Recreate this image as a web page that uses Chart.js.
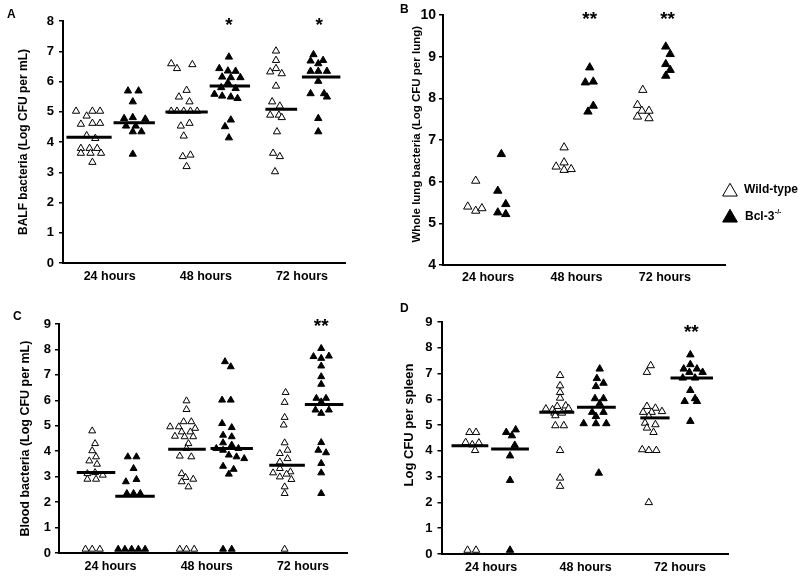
<!DOCTYPE html>
<html>
<head>
<meta charset="utf-8">
<script src="https://cdn.jsdelivr.net/npm/chart.js@4.4.1/dist/chart.umd.min.js"></script>
<style>
  html, body { margin: 0; padding: 0; background: #fff; }
  #fig { position: relative; width: 800px; height: 577px; overflow: hidden; font-family: 'Liberation Sans', Arial, sans-serif; }
  #fig canvas { position: absolute; }
  .tag { position: absolute; font-weight: bold; font-size: 12px; line-height: 12px; color: #000; }
</style>
</head>
<body>
<div id="fig">
  <canvas id="balf" width="400" height="290" style="left:0;top:0"></canvas>
  <canvas id="lung" width="400" height="290" style="left:400px;top:0"></canvas>
  <canvas id="blood" width="400" height="287" style="left:0;top:290px"></canvas>
  <canvas id="spleen" width="400" height="287" style="left:400px;top:290px"></canvas>
  <div class="tag" style="left:7px;top:8px">A</div>
  <div class="tag" style="left:400px;top:3px">B</div>
  <div class="tag" style="left:13px;top:310px">C</div>
  <div class="tag" style="left:400px;top:302px">D</div>
</div>
<script>
const hours = ["24 hours", "48 hours", "72 hours"];

// A: BALF bacteria - x = jittered position around each time point
const balfWtX = [
  [0.65, 0.82, 0.9, 0.76, 0.7, 0.82, 0.9, 0.76, 0.85, 0.7, 0.79, 0.87, 0.7, 0.8, 0.91, 0.82],
  [1.64, 1.7, 1.86, 1.8, 1.72, 1.83, 1.64, 1.7, 1.77, 1.84, 1.91, 1.74, 1.83, 1.77, 1.76, 1.84, 1.8],
  [2.73, 2.73, 2.67, 2.73, 2.79, 2.73, 2.69, 2.77, 2.67, 2.76, 2.79, 2.74, 2.7, 2.77, 2.72]
];
const balfWtY = [
  [5.02, 5.02, 5.02, 4.86, 4.59, 4.62, 4.62, 4.21, 4.12, 3.79, 3.79, 3.79, 3.63, 3.63, 3.63, 3.33],
  [6.59, 6.43, 6.56, 5.71, 5.49, 5.33, 5.02, 5.02, 5.02, 5.02, 5.02, 4.53, 4.62, 4.2, 3.52, 3.57, 3.19],
  [7.01, 6.7, 6.32, 6.43, 6.26, 5.85, 5.33, 5.19, 4.89, 4.89, 4.81, 4.34, 3.63, 3.52, 3.02]
];
const balfKoX = [
  [1.19, 1.3, 1.24, 1.15, 1.24, 1.37, 1.17, 1.27, 1.24, 1.33, 1.24],
  [2.24, 2.14, 2.23, 2.31, 2.17, 2.26, 2.36, 2.23, 2.16, 2.31, 2.09, 2.17, 2.26, 2.33, 2.26, 2.2, 2.24],
  [3.12, 3.09, 3.22, 3.17, 3.09, 3.17, 3.26, 3.17, 3.09, 3.23, 3.26, 3.17, 3.17]
];
const balfKoY = [
  [5.69, 5.69, 5.33, 4.78, 4.81, 4.76, 4.53, 4.53, 4.34, 4.34, 3.6],
  [6.81, 6.43, 6.35, 6.34, 6.15, 6.13, 6.13, 5.96, 5.8, 5.77, 5.58, 5.52, 5.49, 5.44, 4.73, 4.51, 4.14],
  [6.89, 6.68, 6.7, 6.59, 6.34, 6.34, 6.34, 6.01, 5.6, 5.6, 5.49, 4.78, 4.34]
];
const balfWtMean = [4.16, 4.99, 5.08];
const balfKoMean = [4.64, 5.85, 6.15];
const balfStarX = [2.24, 3.18];
const balfStarY = [7.93, 7.93];
const balfStars = ["*", "*"];

// B: whole lung bacteria
const lungWtX = [[0.86, 0.77, 0.86, 0.93], [1.86, 1.86, 1.77, 1.86, 1.94], [2.75, 2.69, 2.74, 2.82, 2.69, 2.82]];
const lungWtY = [[6.02, 5.4, 5.3, 5.36], [6.82, 6.46, 6.36, 6.28, 6.3], [8.2, 7.84, 7.7, 7.7, 7.56, 7.52]];
const lungKoX = [[1.15, 1.11, 1.2, 1.11, 1.2], [2.15, 2.1, 2.19, 2.19, 2.13], [3.01, 3.06, 3.01, 3.06, 3.01]];
const lungKoY = [[6.66, 5.78, 5.46, 5.26, 5.22], [8.74, 8.38, 8.4, 7.82, 7.68], [9.24, 9.06, 8.82, 8.68, 8.54]];
const lungStarX = [2.15, 3.03];
const lungStarY = [9.94, 9.94];
const lungStars = ["**", "**"];

// C: blood bacteria
const bloodWtX = [
  [0.81, 0.84, 0.81, 0.85, 0.78, 0.86, 0.76, 0.84, 0.92, 0.76, 0.85, 0.74, 0.81, 0.89],
  [1.79, 1.79, 1.76, 1.84, 1.62, 1.71, 1.88, 1.74, 1.83, 1.67, 1.77, 1.86, 1.81, 1.79, 1.72, 1.84, 1.74, 1.78, 1.86, 1.74, 1.81, 1.72, 1.79, 1.87],
  [2.82, 2.81, 2.81, 2.8, 2.81, 2.84, 2.76, 2.84, 2.76, 2.76, 2.69, 2.87, 2.83, 2.76, 2.88, 2.81, 2.81, 2.81]
];
const bloodWtY = [
  [4.8, 4.3, 4.02, 3.78, 3.62, 3.49, 3.12, 3.16, 3.06, 2.9, 2.9, 0.15, 0.15, 0.15],
  [5.98, 5.64, 5.16, 5.16, 4.96, 4.96, 4.9, 4.76, 4.76, 4.59, 4.57, 4.57, 4.3, 4.11, 3.81, 3.78, 3.12, 2.97, 2.9, 2.8, 2.6, 0.15, 0.15, 0.15],
  [6.31, 5.92, 5.33, 5.03, 4.33, 4.04, 3.91, 3.71, 3.58, 3.32, 3.15, 3.19, 3.1, 2.99, 2.89, 2.6, 2.34, 0.15]
];
const bloodKoX = [
  [1.18, 1.27, 1.24, 1.16, 1.27, 1.17, 1.24, 1.31, 1.08, 1.15, 1.22, 1.29, 1.36],
  [2.19, 2.25, 2.16, 2.25, 2.16, 2.26, 2.17, 2.26, 2.17, 2.26, 2.33, 2.1, 2.17, 2.23, 2.31, 2.39, 2.17, 2.28, 2.23, 2.17, 2.26],
  [3.19, 3.11, 3.19, 3.27, 3.19, 3.19, 3.19, 3.14, 3.24, 3.19, 3.13, 3.27, 3.19, 3.19, 3.16, 3.24, 3.19, 3.19, 3.19]
];
const bloodKoY = [
  [3.78, 3.78, 3.32, 2.8, 2.89, 2.34, 2.34, 2.34, 0.15, 0.15, 0.15, 0.15, 0.15],
  [7.52, 7.32, 6.01, 6.01, 5.09, 4.93, 4.63, 4.57, 4.33, 4.24, 4.11, 4.11, 4.04, 3.85, 3.78, 3.71, 3.41, 3.29, 3.1, 0.15, 0.15],
  [8.04, 7.72, 7.65, 7.74, 7.35, 6.93, 6.63, 6.08, 6.08, 5.94, 5.62, 5.62, 5.49, 4.34, 4.04, 3.94, 3.52, 3.15, 2.34]
];
const bloodWtMean = [3.16, 4.08, 3.45];
const bloodKoMean = [2.23, 4.11, 5.84];
const bloodStarX = [3.19];
const bloodStarY = [9.0];
const bloodStars = ["**"];

// D: spleen
const spleenWtX = [
  [0.77, 0.84, 0.73, 0.8, 0.87, 0.83, 0.75, 0.84],
  [1.73, 1.73, 1.73, 1.73, 1.79, 1.7, 1.58, 1.65, 1.82, 1.67, 1.75, 1.68, 1.68, 1.77, 1.73, 1.73, 1.73],
  [2.69, 2.65, 2.65, 2.74, 2.81, 2.61, 2.7, 2.67, 2.63, 2.74, 2.65, 2.72, 2.6, 2.67, 2.75, 2.67]
];
const spleenWtY = [
  [4.72, 4.72, 4.33, 4.24, 4.31, 4.02, 0.15, 0.15],
  [6.93, 6.53, 6.27, 6.05, 5.75, 5.73, 5.63, 5.6, 5.64, 5.47, 5.47, 5.37, 4.98, 4.98, 4.02, 2.95, 2.63],
  [7.31, 7.05, 5.73, 5.66, 5.53, 5.5, 5.5, 5.34, 5.08, 5.02, 4.89, 4.72, 4.05, 4.02, 4.02, 2.0]
];
const spleenKoX = [
  [1.16, 1.26, 1.22, 1.25, 1.2, 1.2, 1.2],
  [2.15, 2.12, 2.19, 2.11, 2.1, 2.19, 2.15, 2.07, 2.19, 2.11, 1.98, 2.11, 2.22, 2.14],
  [3.11, 3.11, 3.04, 3.18, 3.1, 3.24, 3.03, 3.16, 3.11, 3.16, 3.05, 3.18, 3.11]
];
const spleenKoY = [
  [4.72, 4.82, 4.59, 4.22, 3.81, 2.86, 0.15],
  [7.18, 6.81, 6.63, 6.5, 6.03, 6.03, 5.83, 5.5, 5.5, 5.34, 5.06, 5.06, 5.06, 3.14],
  [7.73, 7.35, 7.18, 7.18, 7.05, 7.05, 6.83, 6.83, 6.35, 6.03, 5.92, 5.92, 5.15]
];
const spleenWtMean = [4.2, 5.5, 5.28];
const spleenKoMean = [4.07, 5.69, 6.83];
const spleenStarX = [3.12];
const spleenStarY = [8.7];
const spleenStars = ["**"];

const FONT = "'Liberation Sans', Arial, sans-serif";
Chart.defaults.font.family = FONT;
Chart.defaults.color = "#000";

// 星印（有意差）
const starPlugin = {
  id: "stars",
  afterDatasetsDraw(chart, args, o) {
    if (!o || !o.xs) return;
    const { ctx, scales } = chart;
    ctx.save();
    ctx.font = `bold ${o.size}px ${FONT}`;
    ctx.textAlign = "center";
    ctx.textBaseline = "alphabetic";
    ctx.fillStyle = "#000";
    o.xs.forEach((v, i) => {
      ctx.fillText(o.text[i], scales.x.getPixelForValue(v), scales.y.getPixelForValue(o.ys[i]) + o.size * 0.42);
    });
    ctx.restore();
  }
};

// 凡例（B のみ）
const keyPlugin = {
  id: "key",
  afterDraw(chart, args, o) {
    if (!o || !o.show) return;
    const ctx = chart.ctx;
    ctx.save();
    ctx.strokeStyle = "#000";
    ctx.fillStyle = "#fff";
    Chart.helpers.drawPoint(ctx, { pointStyle: "triangle", radius: 8.5, borderWidth: 1.3, rotation: 0 }, 330, 191.8);
    ctx.fillStyle = "#000";
    Chart.helpers.drawPoint(ctx, { pointStyle: "triangle", radius: 8.5, borderWidth: 1, rotation: 0 }, 330, 217.8);
    ctx.font = `bold 12px ${FONT}`;
    ctx.textBaseline = "middle";
    ctx.textAlign = "left";
    ctx.fillText("Wild-type", 344, 189.5);
    ctx.fillText("Bcl-3", 345, 217);
    const w = ctx.measureText("Bcl-3").width;
    ctx.font = `bold 7px ${FONT}`;
    ctx.fillText("-/-", 345 + w + 0.5, 212);
    ctx.restore();
  }
};

function points(xs, ys) {
  return xs.flatMap((g, i) => g.map((x, j) => ({ x, y: ys[i][j] })));
}

function makePanel(id, p) {
  const datasets = [
    {
      data: points(p.wtX, p.wtY),
      pointStyle: "triangle",
      pointRadius: p.radius,
      pointBackgroundColor: "#fff",
      pointBorderColor: "#000",
      pointBorderWidth: 1,
      clip: false
    },
    {
      data: points(p.koX, p.koY),
      pointStyle: "triangle",
      pointRadius: p.radius,
      pointBackgroundColor: "#000",
      pointBorderColor: "#000",
      pointBorderWidth: 1,
      clip: false
    }
  ];

  const addMean = (means, spans) => {
    (means || []).forEach((m, i) => {
      datasets.push({
        type: "line",
        data: [{ x: spans[i][0], y: m }, { x: spans[i][1], y: m }],
        borderColor: "#000",
        borderWidth: 3,
        pointRadius: 0,
        showLine: true,
        order: -1,
        clip: false
      });
    });
  };
  addMean(p.wtMean, p.wtSpan);
  addMean(p.koMean, p.koSpan);

  new Chart(document.getElementById(id), {
    type: "scatter",
    data: { datasets },
    plugins: [starPlugin, keyPlugin],
    options: {
      responsive: false,
      animation: false,
      events: [],
      layout: { padding: { left: 0, top: p.padTop, right: p.padRight, bottom: 0 } },
      plugins: {
        legend: { display: false },
        tooltip: { enabled: false },
        stars: { xs: p.starX, ys: p.starY, text: p.stars, size: 19 },
        key: { show: !!p.key }
      },
      scales: {
        x: {
          type: "linear",
          min: p.xMin,
          max: p.xMax,
          afterBuildTicks: s => { s.ticks = [1, 2, 3].map(v => ({ value: v })); },
          afterFit: s => { s.height = p.xHeight; },
          ticks: {
            callback: v => hours[v - 1],
            font: { size: 12.5, weight: "bold" },
            padding: p.xPad,
            maxRotation: 0,
            autoSkip: false
          },
          grid: { display: false, drawTicks: false },
          border: { color: "#000", width: 2 }
        },
        y: {
          min: p.yMin,
          max: p.yMax,
          afterFit: s => { s.width = p.yWidth; },
          ticks: { stepSize: 1, font: { size: p.tickSize, weight: "bold" }, padding: p.tickPad },
          grid: { drawOnChartArea: false, tickLength: 4, color: "#000", lineWidth: 1.5 },
          border: { color: "#000", width: 2 },
          title: {
            display: true,
            text: p.title,
            font: { size: p.titleSize, weight: "bold" },
            padding: { top: p.titlePad, bottom: 0 }
          }
        }
      }
    }
  });
}

makePanel("balf", {
  wtX: balfWtX, wtY: balfWtY, koX: balfKoX, koY: balfKoY,
  wtMean: balfWtMean, koMean: balfKoMean,
  wtSpan: [[0.55, 1.02], [1.58, 2.02], [2.62, 2.95]],
  koSpan: [[1.04, 1.47], [2.04, 2.46], [3.0, 3.4]],
  starX: balfStarX, starY: balfStarY, stars: balfStars,
  yMin: 0, yMax: 8, xMin: 0.514, xMax: 3.448,
  title: "BALF bacteria (Log CFU per mL)", titleSize: 12, titlePad: 16,
  tickSize: 13, tickPad: 5, yWidth: 63, xHeight: 27, xPad: 6,
  padTop: 21, padRight: 55, radius: 4.2
});

makePanel("lung", {
  wtX: lungWtX, wtY: lungWtY, koX: lungKoX, koY: lungKoY,
  starX: lungStarX, starY: lungStarY, stars: lungStars,
  yMin: 4, yMax: 10, xMin: 0.49, xMax: 3.68,
  // leading spaces nudge the rotated title up a little, as in the figure
  title: "\u2002\u2002Whole lung bacteria (Log CFU per lung)", titleSize: 11.5, titlePad: 10,
  tickSize: 14, tickPad: 3, yWidth: 43, xHeight: 25, xPad: 5,
  padTop: 15, padRight: 75, radius: 4.8, key: true
});

makePanel("blood", {
  wtX: bloodWtX, wtY: bloodWtY, koX: bloodKoX, koY: bloodKoY,
  wtMean: bloodWtMean, koMean: bloodKoMean,
  wtSpan: [[0.65, 1.05], [1.6, 1.99], [2.65, 3.02]],
  koSpan: [[1.05, 1.46], [2.04, 2.48], [3.02, 3.42]],
  starX: bloodStarX, starY: bloodStarY, stars: bloodStars,
  yMin: 0, yMax: 9, xMin: 0.465, xMax: 3.458,
  title: "Blood bacteria (Log CFU per mL)", titleSize: 12.5, titlePad: 18,
  tickSize: 13, tickPad: 4, yWidth: 59, xHeight: 24, xPad: 6,
  padTop: 34, padRight: 53, radius: 4
});

makePanel("spleen", {
  wtX: spleenWtX, wtY: spleenWtY, koX: spleenKoX, koY: spleenKoY,
  wtMean: spleenWtMean, koMean: spleenKoMean,
  wtSpan: [[0.58, 0.97], [1.51, 1.88], [2.58, 2.89]],
  koSpan: [[1.0, 1.4], [1.91, 2.32], [2.9, 3.35]],
  starX: spleenStarX, starY: spleenStarY, stars: spleenStars,
  yMin: 0, yMax: 9, xMin: 0.474, xMax: 3.509,
  title: "\u2002\u2002\u2002\u2002Log CFU per spleen", titleSize: 13, titlePad: 2,
  tickSize: 13, tickPad: 5, yWidth: 41.5, xHeight: 23, xPad: 6,
  padTop: 32, padRight: 72, radius: 4.3
});
</script>
</body>
</html>
